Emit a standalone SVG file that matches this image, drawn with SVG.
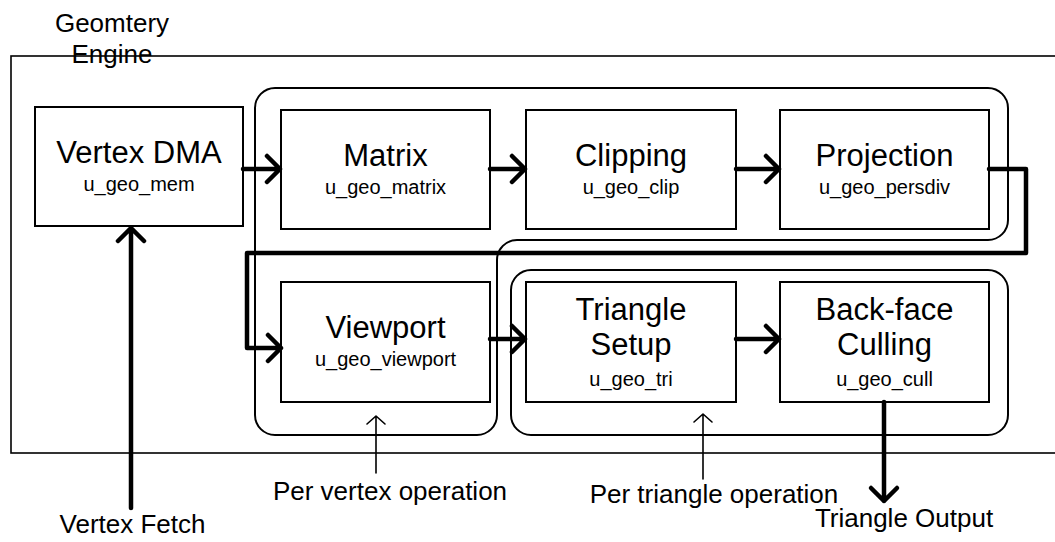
<svg xmlns="http://www.w3.org/2000/svg" width="1055" height="542" viewBox="0 0 1055 542">
<style>
text{font-family:"Liberation Sans",Arial,sans-serif;fill:#000;text-anchor:middle}
.box{fill:#fff;stroke:#000;stroke-width:2}
.region{fill:none;stroke:#000;stroke-width:2}
.t{font-size:31px}
.s{font-size:20px}
.l{font-size:26px}
.thick{fill:none;stroke:#000;stroke-width:4.5;stroke-linecap:round;stroke-linejoin:round}
.thin{fill:none;stroke:#000;stroke-width:1.6;stroke-linecap:round}
</style>
<rect width="1055" height="542" fill="#fff"/>
<g id="engine">
<rect x="11" y="56" width="1060" height="397" fill="none" stroke="#000" stroke-width="1.6"/>
<text class="l" x="112" y="32">Geomtery</text>
<text class="l" x="112" y="63">Engine</text>
</g>
<g id="per-vertex-region">
<path class="region" d="M275 88 H988 A20 20 0 0 1 1008 108 V220 A20 20 0 0 1 988 240 H517 A20 20 0 0 0 497 260 V415 A20 20 0 0 1 477 435 H275 A20 20 0 0 1 255 415 V108 A20 20 0 0 1 275 88 Z"/>
</g>
<g id="per-triangle-region">
<rect class="region" x="511" y="270" width="497" height="165" rx="20" ry="20"/>
</g>
<g id="vertex-dma">
<rect class="box" x="35" y="107" width="208" height="119"/>
<text class="t" x="139" y="163">Vertex DMA</text>
<text class="s" x="139" y="191">u_geo_mem</text>
</g>
<g id="matrix">
<rect class="box" x="281" y="110" width="209" height="119"/>
<text class="t" x="385.5" y="166">Matrix</text>
<text class="s" x="385.5" y="194">u_geo_matrix</text>
</g>
<g id="clipping">
<rect class="box" x="526" y="110" width="210" height="119"/>
<text class="t" x="631" y="166">Clipping</text>
<text class="s" x="631" y="194">u_geo_clip</text>
</g>
<g id="projection">
<rect class="box" x="780" y="110" width="209" height="119"/>
<text class="t" x="884.5" y="166">Projection</text>
<text class="s" x="884.5" y="194">u_geo_persdiv</text>
</g>
<g id="viewport">
<rect class="box" x="281" y="282" width="209" height="120"/>
<text class="t" x="385.5" y="338">Viewport</text>
<text class="s" x="385.5" y="366">u_geo_viewport</text>
</g>
<g id="triangle-setup">
<rect class="box" x="526" y="282" width="210" height="120"/>
<text class="t" x="631" y="320">Triangle</text>
<text class="t" x="631" y="355">Setup</text>
<text class="s" x="631" y="386">u_geo_tri</text>
</g>
<g id="backface-culling">
<rect class="box" x="780" y="282" width="209" height="120"/>
<text class="t" x="884.5" y="320">Back-face</text>
<text class="t" x="884.5" y="355">Culling</text>
<text class="s" x="884.5" y="386">u_geo_cull</text>
</g>
<g id="connectors">
<path class="thick" d="M243 169 H280 M267 156 L280 169 L267 182"/>
<path class="thick" d="M490 169 H525 M512 156 L525 169 L512 182"/>
<path class="thick" d="M736 169 H779 M766 156 L779 169 L766 182"/>
<path class="thick" d="M989 169 H1026 V253 H247 V348 H281 M268 335 L281 348 L268 361"/>
<path class="thick" d="M490 339 H525 M512 326 L525 339 L512 352"/>
<path class="thick" d="M736 339 H779 M766 326 L779 339 L766 352"/>
<path class="thick" d="M131 508 V228 M118 241 L131 228 L144 241"/>
<path class="thick" d="M884 402 V501 M871 488 L884 501 L897 488"/>
<path class="thin" d="M376 473 V416 M367 424 L376 416 L385 424"/>
<path class="thin" d="M703 479 V414 M694 422 L703 414 L712 422"/>
</g>
<g id="labels">
<text class="l" x="132.5" y="533">Vertex Fetch</text>
<text class="l" x="390" y="500">Per vertex operation</text>
<text class="l" x="714" y="503">Per triangle operation</text>
<text class="l" x="904" y="527">Triangle Output</text>
</g>
</svg>
